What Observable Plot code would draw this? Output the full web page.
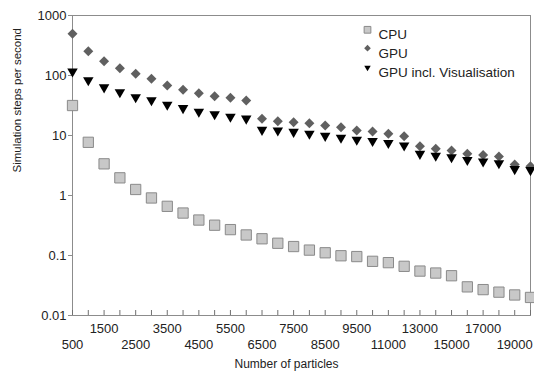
<!DOCTYPE html>
<html><head><meta charset="utf-8">
<script src="https://cdn.jsdelivr.net/npm/d3@7"></script>
<script src="https://cdn.jsdelivr.net/npm/@observablehq/plot@0.6"></script>
<style>html,body{margin:0;padding:0;background:#fff}#chart svg{display:block}</style>
</head><body><div id="chart"></div>
<script>
const particles = [500,1000,1500,2000,2500,3000,3500,4000,4500,5000,5500,6000,6500,7000,7500,8000,8500,9000,9500,10000,11000,12000,13000,14000,15000,16000,17000,18000,19000,20000];
const cpu = [31.6,7.7,3.37,1.97,1.26,0.91,0.66,0.51,0.39,0.32,0.27,0.22,0.19,0.16,0.141,0.123,0.111,0.099,0.096,0.080,0.076,0.066,0.055,0.051,0.046,0.030,0.027,0.0245,0.022,0.020];
const gpu = [495,254,173,132,107,88,68,58,50.7,45,42.4,38.3,19,17.3,16.7,16.0,14.7,13.7,12.1,11.7,10.7,9.7,6.6,6.0,5.6,4.95,4.75,4.47,3.3,3.08];
const gpuVis = [117,83.5,63.4,52.7,43.5,38.6,32.6,28.6,24.9,22.6,20.6,19.1,12.4,12.1,11.5,10.7,9.85,9.2,8.5,8.1,7.5,6.8,4.95,4.6,4.35,3.9,3.7,3.45,2.75,2.65];
const seriesNames = ["CPU", "GPU", "GPU incl. Visualisation"];
const yTicks = [0.01, 0.1, 1, 10, 100, 1000];
const topLabels = [1500, 3500, 5500, 7500, 9500, 13000, 17000];
const bottomLabels = [500, 2500, 4500, 6500, 8500, 11000, 15000, 19000];
const xTitle = "Number of particles";
const yTitle = "Simulation steps per second";

const rows = particles.map((p, i) => ({p, cpu: cpu[i], gpu: gpu[i], vis: gpuVis[i]}));
const font = "'Liberation Sans', Arial, sans-serif";
const cpuStyle = {symbol: "square", fill: "#c8c8c8", stroke: "#8a8a8a", strokeWidth: 1};
const gpuStyle = {symbol: "diamond2", fill: "#606060"};
const visStyle = {symbol: "triangle", rotate: 180, fill: "#000"};

const chart = Plot.plot({
  width: 534, height: 371,
  marginLeft: 72, marginRight: 4, marginTop: 15, marginBottom: 56,
  style: {fontFamily: font, background: "#fff", color: "#222"},
  x: {type: "point", domain: particles, padding: 0, round: false, axis: null},
  y: {type: "log", domain: [0.01, 1000], axis: null},
  marks: [
    Plot.frame({stroke: "#8c8c8c"}),
    Plot.ruleX(particles, {x: d => d, insetTop: 295, stroke: "#707070"}),
    Plot.axisY(yTicks, {tickSize: 4, tickPadding: 2, tickFormat: d => String(d), fontSize: 13, stroke: "#8c8c8c", label: null}),
    Plot.axisX(topLabels, {tickSize: 0, tickPadding: 8.5, tickFormat: d => String(d), fontSize: 13, label: null}),
    Plot.axisX(bottomLabels, {tickSize: 0, tickPadding: 24, tickFormat: d => String(d), fontSize: 13, label: null}),
    Plot.text([xTitle], {text: d => d, frameAnchor: "bottom", dx: -15, dy: 52.5, lineAnchor: "bottom", fontSize: 12}),
    Plot.text([yTitle], {text: d => d, frameAnchor: "left", rotate: -90, dx: -55, dy: 7, fontSize: 11.5}),
    Plot.dot(rows, {x: "p", y: "cpu", r: 5.8, ...cpuStyle}),
    Plot.dot(rows, {x: "p", y: "gpu", r: 4.5, ...gpuStyle}),
    Plot.dot(rows, {x: "p", y: "vis", r: 3.9, ...visStyle}),
    Plot.dot([seriesNames[0]], {frameAnchor: "top-left", dx: 295, dy: 14.3, r: 3.8, ...cpuStyle}),
    Plot.dot([seriesNames[1]], {frameAnchor: "top-left", dx: 295, dy: 32.7, r: 3.0, ...gpuStyle}),
    Plot.dot([seriesNames[2]], {frameAnchor: "top-left", dx: 295, dy: 52, r: 2.4, ...visStyle}),
    Plot.text(seriesNames.slice(0,1), {text: d => d, frameAnchor: "top-left", dx: 306, dy: 14.3, textAnchor: "start", fontSize: 13.5}),
    Plot.text(seriesNames.slice(1,2), {text: d => d, frameAnchor: "top-left", dx: 306, dy: 32.7, textAnchor: "start", fontSize: 13.5}),
    Plot.text(seriesNames.slice(2,3), {text: d => d, frameAnchor: "top-left", dx: 306, dy: 51.7, textAnchor: "start", fontSize: 13.5})
  ]
});
document.getElementById("chart").appendChild(chart);
</script>
</body></html>
